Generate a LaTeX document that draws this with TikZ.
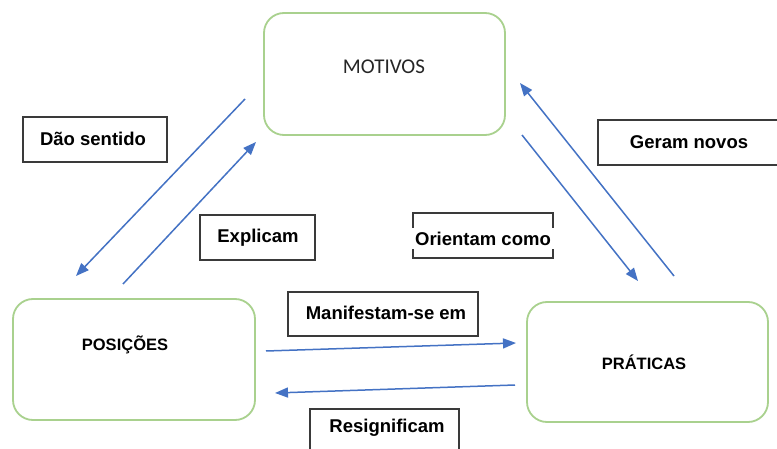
\documentclass[tikz,border=0pt]{standalone}
\usepackage{fontspec}
\setmainfont{Liberation Sans}
\newfontfamily\carlito{Carlito}
\usetikzlibrary{arrows.meta}
\definecolor{boxgreen}{HTML}{A9D18E}
\definecolor{arrblue}{HTML}{4472C4}
\definecolor{lblgray}{HTML}{3A3A3A}
\definecolor{txtgray}{HTML}{262626}
\tikzset{
  mainbox/.style={draw=boxgreen, line width=1.8pt, rounded corners=20pt, fill=white},
  lblbox/.style={draw=lblgray, line width=1.6pt, fill=white},
  lbltext/.style={font=\fontsize{18.5}{21}\selectfont\bfseries, text=black, inner sep=0pt},
  flow/.style={draw=arrblue, line width=1.5pt, -{Triangle[length=13pt,width=10pt]}},
}
\begin{document}
\begin{tikzpicture}[x=1pt,y=-1pt]
\useasboundingbox (0,0) rectangle (777,449);
\fill[white] (0,0) rectangle (777,449);
% main boxes
\draw[mainbox] (264,13) rectangle (505,135);
\node[font=\carlito\fontsize{21}{24}\selectfont, text=txtgray] (motivos) at (384,67) {MOTIVOS};
\draw[mainbox] (13,299) rectangle (255,420);
\node[font=\fontsize{16.5}{19}\selectfont\bfseries] (posicoes) at (125,345) {POSIÇÕES};
\draw[mainbox] (527,302) rectangle (768,422);
\node[font=\fontsize{16.5}{19}\selectfont\bfseries] (praticas) at (644,362) {PRÁTICAS};
% label boxes
\draw[lblbox] (23,117) rectangle (167,162);
\node[lbltext] (dao) at (93,139) {Dão sentido};
\draw[lblbox] (200,215) rectangle (315,260);
\node[lbltext] (explicam) at (258,238) {Explicam};
\draw[lblbox] (598,120) rectangle (779,165);
\node[lbltext] (geram) at (689,142) {Geram novos};
\draw[lblbox] (413,213) rectangle (553,258);
\node[lbltext, fill=white, minimum width=146pt, minimum height=21pt] (orientam) at (483,239) {Orientam como};
\draw[lblbox] (288,292) rectangle (478,336);
\node[lbltext] (manif) at (386,313) {Manifestam-se em};
\draw[lblbox] (310,409) rectangle (459,470);
\node[lbltext] (resig) at (387,428) {Resignificam};
% arrow endpoints
\coordinate (daoS) at (245,99);
\coordinate (daoE) at (76,276);
\coordinate (expS) at (123,284);
\coordinate (expE) at (256,142);
\coordinate (oriS) at (522,135);
\coordinate (oriE) at (638,281);
\coordinate (gerS) at (674,276);
\coordinate (gerE) at (520,83);
\coordinate (manS) at (266,351);
\coordinate (manE) at (516,343);
\coordinate (resS) at (515,385);
\coordinate (resE) at (275,393);
\draw[flow] (daoS) -- (daoE);
\draw[flow] (expS) -- (expE);
\draw[flow] (oriS) -- (oriE);
\draw[flow] (gerS) -- (gerE);
\draw[flow] (manS) -- (manE);
\draw[flow] (resS) -- (resE);
\end{tikzpicture}
\end{document}
